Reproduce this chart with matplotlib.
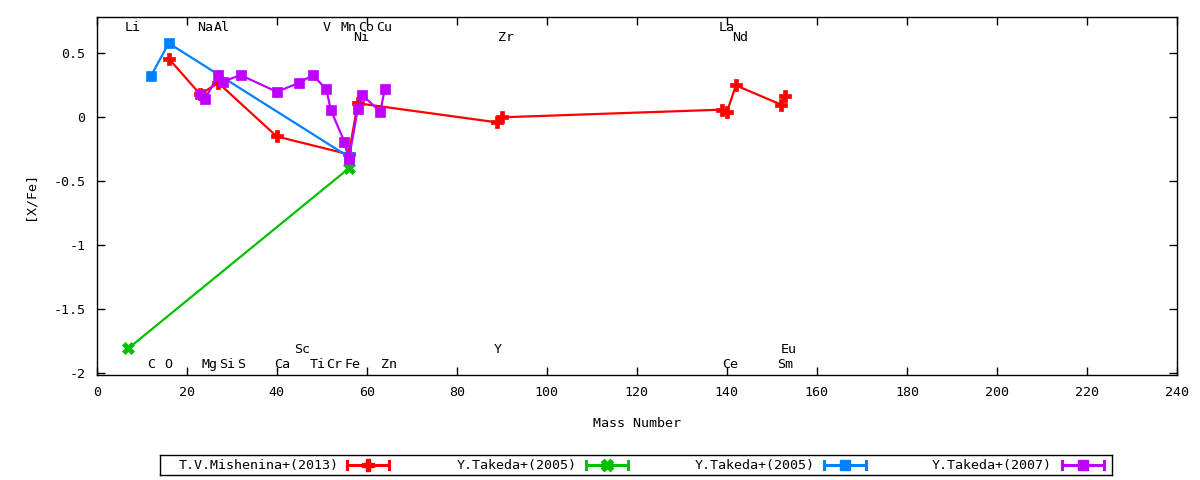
import matplotlib
matplotlib.use("Agg")
import matplotlib.pyplot as plt

plt.rcParams['font.family'] = ['DejaVu Sans Mono', 'DejaVu Sans']
FS = 9.6

# ---- data ----
mish_x = [16, 23, 27, 40, 56, 58, 89, 90, 139, 140, 142, 152, 153]
mish_y = [0.46, 0.18, 0.27, -0.15, -0.29, 0.11, -0.04, 0.00, 0.06, 0.04, 0.25, 0.10, 0.17]

tak05a_x = [7, 56]
tak05a_y = [-1.81, -0.40]

tak05b_x = [12, 16, 56]
tak05b_y = [0.32, 0.58, -0.31]

tak07_x = [23, 24, 27, 28, 32, 40, 45, 48, 51, 52, 55, 56, 58, 59, 63, 64]
tak07_y = [0.18, 0.14, 0.33, 0.28, 0.33, 0.20, 0.27, 0.33, 0.22, 0.06,
           -0.19, -0.33, 0.065, 0.175, 0.044, 0.22]

series_names = ["T.V.Mishenina+(2013)", "Y.Takeda+(2005)", "Y.Takeda+(2005)", "Y.Takeda+(2007)"]

# element labels: name, x (as read), y
elem_top = ["Li", "Na", "Al", "V", "Mn", "Co", "Cu", "La"]
elem_top_x = [8.05, 24.0, 27.8, 51.1, 55.9, 59.9, 63.9, 140.0]
elem_top2 = ["Ni", "Zr", "Nd"]
elem_top2_x = [58.8, 91.0, 142.9]
elem_bot = ["C", "O", "Mg", "Si", "S", "Ca", "Ti", "Cr", "Fe", "Zn", "Ce", "Sm"]
elem_bot_x = [12.0, 16.0, 25.1, 28.9, 32.0, 41.1, 49.1, 52.8, 56.8, 65.0, 140.7, 152.9]
elem_bot2 = ["Sc", "Y", "Eu"]
elem_bot2_x = [45.7, 89.2, 153.8]
row_y = [0.707, 0.625, -1.933, -1.815]

xticks = list(range(0, 241, 20))
yticks = [-2, -1.5, -1, -0.5, 0, 0.5]
ytick_labels = ["-2", "-1.5", "-1", "-0.5", "0", "0.5"]

# ---- styles ----
colors = ["#ff0000", "#00c000", "#0080ff", "#c000ff"]
markers = ["P", "X", "s", "s"]
msizes = [8.5, 8.5, 7.8, 7.8]

fig = plt.figure(figsize=(12, 4.8), dpi=100)
ax = fig.add_axes([96.7/1200, 1-375.3/480, (1177-96.7)/1200, (375.3-17.3)/480])

data = [(mish_x, mish_y), (tak05a_x, tak05a_y), (tak05b_x, tak05b_y), (tak07_x, tak07_y)]
for i, (xs, ys) in enumerate(data):
    ax.plot(xs, ys, color=colors[i], lw=1.6, marker=markers[i], ms=msizes[i],
            mec=colors[i], mfc=colors[i], mew=0.5, zorder=3+i)

for names, xs, yy in [(elem_top, elem_top_x, row_y[0]), (elem_top2, elem_top2_x, row_y[1]),
                      (elem_bot, elem_bot_x, row_y[2]), (elem_bot2, elem_bot2_x, row_y[3])]:
    for n, x in zip(names, xs):
        ax.text(x, yy, n, ha='center', va='center', fontsize=FS, color='black', zorder=10)

ax.set_xlim(0, 240)
ax.set_ylim(-2.02, 0.783)
ax.set_xticks(xticks)
ax.set_xticklabels([str(t) for t in xticks], fontsize=FS)
ax.set_yticks(yticks)
ax.set_yticklabels(ytick_labels, fontsize=FS)
ax.tick_params(direction='in', top=True, right=True, length=6, width=1, pad=8)
for s in ax.spines.values():
    s.set_linewidth(1)
ax.set_xlabel("Mass Number", fontsize=FS, labelpad=13)
ax.set_ylabel("[X/Fe]", fontsize=FS, labelpad=12)

# ---- legend (manual, gnuplot style) ----
lg = fig.add_axes([160/1200, 1-475/480, (1112-160)/1200, 20/480])
lg.set_xlim(160, 1112)
lg.set_ylim(0, 20)
lg.set_xticks([])
lg.set_yticks([])
for s in lg.spines.values():
    s.set_linewidth(1)
text_end = [339, 577, 815, 1052]
samp0 = [347, 586, 824, 1062]
samp_len = 42
for i in range(4):
    lg.text(text_end[i], 10, series_names[i], ha='right', va='center', fontsize=FS)
    x0, x1 = samp0[i], samp0[i] + samp_len
    lg.plot([x0, x1], [10, 10], color=colors[i], lw=2.2)
    lg.plot([x0, x0], [6, 14], color=colors[i], lw=2.2)
    lg.plot([x1, x1], [6, 14], color=colors[i], lw=2.2)
    lg.plot([(x0 + x1) / 2], [10], marker=markers[i], color=colors[i], ms=msizes[i])

fig.savefig("out.png", dpi=100)
